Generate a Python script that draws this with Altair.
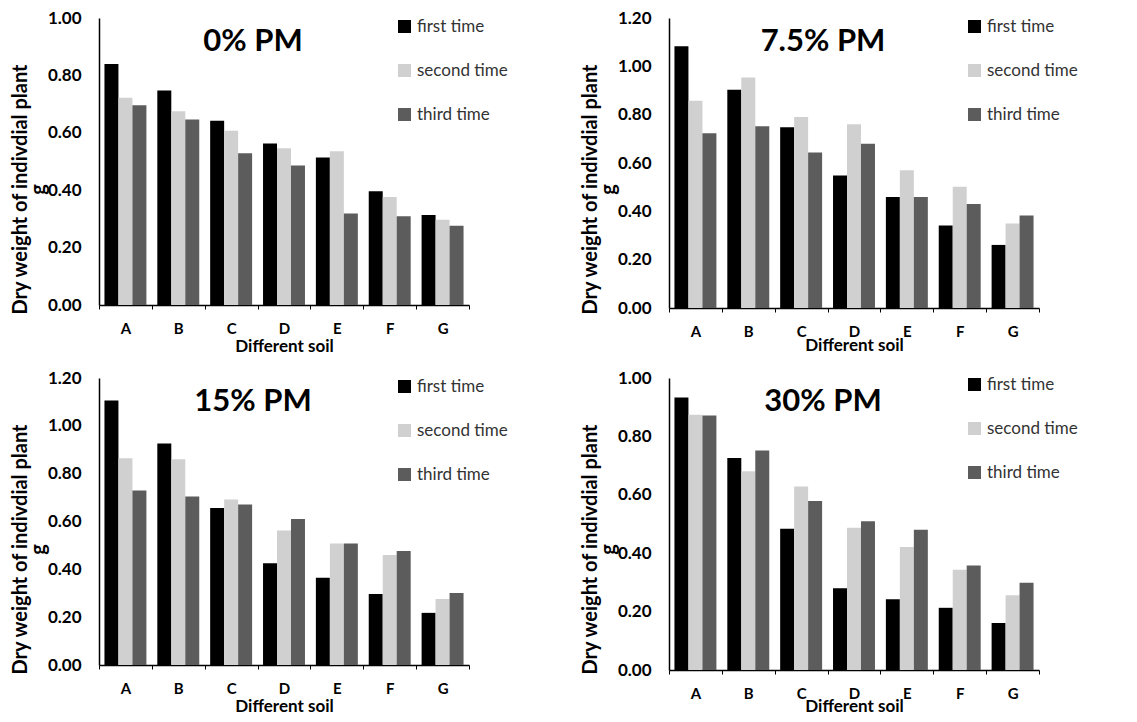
import altair as alt
import pandas as pd

soils = ["A", "B", "C", "D", "E", "F", "G"]
series = ["first time", "second time", "third time"]
colors = ["#000000", "#d0d0d0", "#5c5c5c"]

titles = ["0% PM", "7.5% PM", "15% PM", "30% PM"]
ymax = [1.0, 1.2, 1.2, 1.0]

pm0_first = [0.84, 0.747, 0.642, 0.563, 0.514, 0.396, 0.314]
pm0_second = [0.722, 0.675, 0.607, 0.546, 0.536, 0.376, 0.297]
pm0_third = [0.696, 0.646, 0.529, 0.486, 0.319, 0.309, 0.276]

pm75_first = [1.083, 0.903, 0.748, 0.548, 0.459, 0.341, 0.261]
pm75_second = [0.858, 0.954, 0.790, 0.760, 0.570, 0.502, 0.350]
pm75_third = [0.723, 0.752, 0.643, 0.680, 0.459, 0.430, 0.383]

pm15_first = [1.106, 0.926, 0.656, 0.425, 0.365, 0.297, 0.218]
pm15_second = [0.864, 0.860, 0.692, 0.562, 0.508, 0.460, 0.276]
pm15_third = [0.730, 0.705, 0.671, 0.610, 0.508, 0.477, 0.301]

pm30_first = [0.933, 0.726, 0.484, 0.280, 0.242, 0.213, 0.161]
pm30_second = [0.874, 0.681, 0.628, 0.487, 0.421, 0.343, 0.256]
pm30_third = [0.872, 0.752, 0.579, 0.509, 0.480, 0.358, 0.299]

panels_data = [
    [pm0_first, pm0_second, pm0_third],
    [pm75_first, pm75_second, pm75_third],
    [pm15_first, pm15_second, pm15_third],
    [pm30_first, pm30_second, pm30_third],
]

FONT = "Lato"
W = 370
heights = [287, 290, 287, 292]
xtitle_y = [41, 37, 41, 36]
legend_y = [0, 0, 0, -2]


def make_panel(i):
    rows = []
    for s, vals in zip(series, panels_data[i]):
        for soil, v in zip(soils, vals):
            rows.append({"soil": soil, "time": s, "value": v})
    df = pd.DataFrame(rows)
    nt = int(round(ymax[i] / 0.2))
    bars = alt.Chart(df).mark_bar().encode(
        x=alt.X(
            "soil:N",
            sort=soils,
            scale=alt.Scale(paddingInner=0, paddingOuter=0),
            axis=alt.Axis(
                title="Different soil",
                labelAngle=0,
                labelFont=FONT,
                labelFontWeight="bold",
                labelFontSize=15,
                labelColor="#000000",
                labelPadding=12,
                tickBand="extent",
                tickSize=4,
                tickColor="#000000",
                domainColor="#000000",
                domainWidth=1.5,
                titleFont=FONT,
                titleFontWeight="bold",
                titleFontSize=17,
                titleColor="#000000",
                titleY=xtitle_y[i],
                titleBaseline="middle",
            ),
        ),
        xOffset=alt.XOffset(
            "time:N", sort=series, scale=alt.Scale(paddingOuter=0.39, paddingInner=0)
        ),
        y=alt.Y(
            "value:Q",
            scale=alt.Scale(domain=[0, ymax[i]], nice=False),
            axis=alt.Axis(
                title=["Dry weight of indivdial plant", "g"],
                format=".2f",
                values=[round(k * 0.2, 2) for k in range(nt + 1)],
                labelOverlap=False,
                labelFlush=False,
                grid=False,
                ticks=False,
                labelFont=FONT,
                labelFontWeight="bold",
                labelFontSize=17,
                labelColor="#000000",
                labelPadding=18,
                domainColor="#000000",
                domainWidth=1.5,
                titleFont=FONT,
                titleFontWeight="bold",
                titleFontSize=20,
                titleColor="#000000",
                titleX=-73,
                titleY=171,
                titleBaseline="alphabetic",
                titleLineHeight=18,
            ),
        ),
        color=alt.Color(
            "time:N",
            sort=series,
            scale=alt.Scale(domain=series, range=colors),
            legend=alt.Legend(
                title=None,
                orient="none",
                legendX=297,
                legendY=legend_y[i],
                symbolType="square",
                symbolSize=170,
                symbolStrokeWidth=0,
                labelFont=FONT,
                labelFontSize=17,
                labelColor="#333333",
                labelOffset=4,
                rowPadding=26,
            ),
        ),
    )
    tdf = pd.DataFrame({"t": [titles[i]]})
    txt = alt.Chart(tdf).mark_text(
        font=FONT, fontSize=31, fontWeight="bold", color="#000000", baseline="middle"
    ).encode(x=alt.value(154), y=alt.value(24), text="t:N")
    return alt.layer(bars, txt).properties(width=W, height=heights[i])


p = [make_panel(i) for i in range(4)]
top = alt.hconcat(p[0], p[1], spacing=72).resolve_scale(color="independent", y="independent")
bot = alt.hconcat(p[2], p[3], spacing=72).resolve_scale(color="independent", y="independent")
chart = (
    alt.vconcat(top, bot, spacing=15)
    .resolve_scale(color="independent", y="independent")
    .properties(padding={"left": 2, "top": 1, "right": 5, "bottom": 0})
    .configure_view(stroke=None)
    .configure_bar(stroke=None)
)

chart.save("out.html", embed_options={"renderer": "svg", "actions": False})
